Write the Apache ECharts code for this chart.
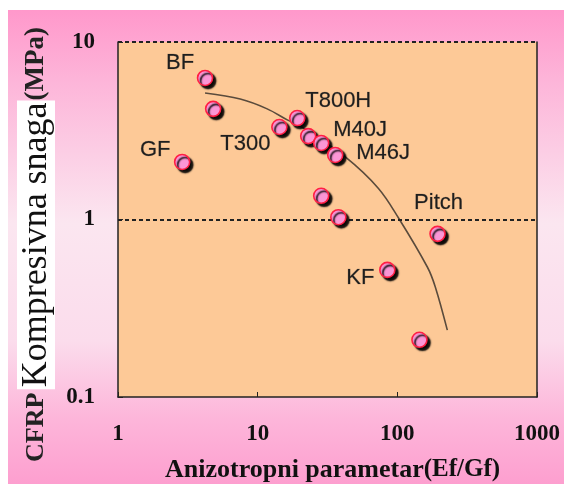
<!DOCTYPE html>
<html>
<head>
<meta charset="utf-8">
<script src="https://cdn.jsdelivr.net/npm/echarts@6/dist/echarts.min.js"></script>
<style>html,body{margin:0;padding:0;background:#fff}#c{width:564px;height:496px}</style>
</head>
<body>
<div id="c"></div>
<script>
// ---- data ----
const xTicks = [1, 10, 100, 1000];
const yTicks = [0.1, 1, 10];
const pointX = [4.2, 4.8, 2.88, 14.3, 19.2, 23, 28.5, 35.9, 28.5, 37.8, 194, 84.8, 144];
const pointY = [6.27, 4.2, 2.11, 3.32, 3.73, 2.95, 2.7, 2.31, 1.36, 1.03, 0.83, 0.52, 0.21];
const pointLabels = ['BF', '', 'GF', 'T300', 'T800H', '', 'M40J', 'M46J', '', '', 'Pitch', 'KF', ''];
const curveX = [4.2, 7.5, 11.7, 16.3, 21.2, 42.4, 73, 102, 164, 187, 228];
const curveY = [5.16, 4.77, 4.2, 3.64, 3.28, 2.25, 1.5, 1.02, 0.54, 0.417, 0.238];
const refLines = [1, 10];

// ---- chart ----
const labelOffsets = {
  'BF': [-25, -15], 'GF': [-27, -12], 'T300': [-34, 17], 'T800H': [41, -17],
  'M40J': [39, -13], 'M46J': [48, -2], 'Pitch': [1, -31], 'KF': [-27, 8]
};
const scatterData = pointX.map((x, i) => {
  const d = { value: [x, pointY[i]] };
  const name = pointLabels[i];
  if (name) {
    d.label = {
      show: true, formatter: name, position: 'inside',
      offset: labelOffsets[name],
      color: '#1e1e1e', fontSize: 22, fontFamily: 'Liberation Sans, Arial, sans-serif',
      textBorderColor: 'rgba(40,40,40,0.35)', textBorderWidth: 0.6
    };
  }
  return d;
});
const curveData = curveX.map((x, i) => [x, curveY[i]]);

const chart = echarts.init(document.getElementById('c'), null, { renderer: 'canvas' });
const serif = 'Liberation Serif, Times New Roman, serif';
chart.setOption({
  animation: false,
  backgroundColor: '#ffffff',
  graphic: [
    {
      type: 'rect', z: -10, silent: true,
      shape: { x: 8, y: 10, width: 556, height: 474 },
      style: {
        fill: new echarts.graphic.LinearGradient(0, 0, 0, 1, [
          { offset: 0, color: '#ff98cb' },
          { offset: 0.15, color: '#fdb5d9' },
          { offset: 0.45, color: '#fbe6f0' },
          { offset: 0.7, color: '#fbdcec' },
          { offset: 0.86, color: '#fdb6da' },
          { offset: 1, color: '#fd9fcf' }
        ])
      }
    },
    {
      type: 'text', z: 10, silent: true,
      x: 165, y: 470,
      style: {
        text: '{a|Anizotropni parametar}{b|(Ef/Gf)}',
        verticalAlign: 'middle', align: 'left',
        rich: {
          a: { fontFamily: serif, fontWeight: 'bold', fontSize: 26, fill: '#111' },
          b: { fontFamily: serif, fontWeight: 'bold', fontSize: 25, fill: '#111' }
        }
      }
    },
    {
      type: 'text', z: 10, silent: true,
      x: 36, y: 462, rotation: Math.PI / 2,
      style: {
        text: '{c|CFRP} {k|Kompresivna snaga}{m|(MPa)}',
        verticalAlign: 'middle', align: 'left',
        rich: {
          c: { fontFamily: serif, fontWeight: 'bold', fontSize: 26, fill: '#222' },
          k: { fontFamily: serif, fontSize: 36, fill: '#111', backgroundColor: '#ffffff', padding: [2, 2, 0, 2] },
          m: { fontFamily: serif, fontWeight: 'bold', fontSize: 27, fill: '#222' }
        }
      }
    }
  ],
  grid: {
    left: 118, right: 27, top: 42, bottom: 99,
    show: true, backgroundColor: '#fdc997', borderWidth: 0
  },
  xAxis: {
    type: 'log', logBase: 10, min: xTicks[0], max: xTicks[xTicks.length - 1],
    axisLine: { show: true, onZero: false, lineStyle: { color: '#222', width: 1.5 } },
    axisTick: { show: true, inside: true, length: 5, lineStyle: { color: '#222' } },
    splitLine: { show: false },
    axisLabel: {
      margin: 26, color: '#111', fontFamily: serif, fontWeight: 'bold', fontSize: 23,
      formatter: v => String(v)
    }
  },
  yAxis: [
    {
      type: 'log', logBase: 10, min: yTicks[0], max: yTicks[yTicks.length - 1],
      axisLine: { show: true, onZero: false, lineStyle: { color: '#222', width: 1.5 } },
      axisTick: { show: true, inside: true, length: 5, lineStyle: { color: '#222' } },
      splitLine: { show: false },
      axisLabel: {
        margin: 23, color: '#111', fontFamily: serif, fontWeight: 'bold', fontSize: 23,
        formatter: v => String(v)
      }
    },
    {
      type: 'log', logBase: 10, min: yTicks[0], max: yTicks[yTicks.length - 1], position: 'right',
      axisLine: { show: true, onZero: false, lineStyle: { color: '#222', width: 1.5 } },
      axisTick: { show: false }, axisLabel: { show: false }, splitLine: { show: false }
    }
  ],
  series: [
    {
      type: 'line', data: curveData, smooth: 0.35, symbol: 'none', z: 2,
      lineStyle: { color: '#5a4b3c', width: 1.6 },
      markLine: {
        silent: true, symbol: 'none', label: { show: false },
        lineStyle: { color: '#222', type: [4, 3], width: 2 },
        data: refLines.map(v => ({ yAxis: v }))
      }
    },
    {
      type: 'scatter', data: scatterData, symbol: 'circle', symbolSize: 15, z: 5,
      itemStyle: {
        opacity: 1,
        color: '#fb96d6', borderColor: '#ff1f44', borderWidth: 1.6,
        shadowColor: 'rgba(0,0,0,0.95)', shadowOffsetX: 3, shadowOffsetY: 3, shadowBlur: 1.5
      }
    }
  ]
});
</script>
</body>
</html>
